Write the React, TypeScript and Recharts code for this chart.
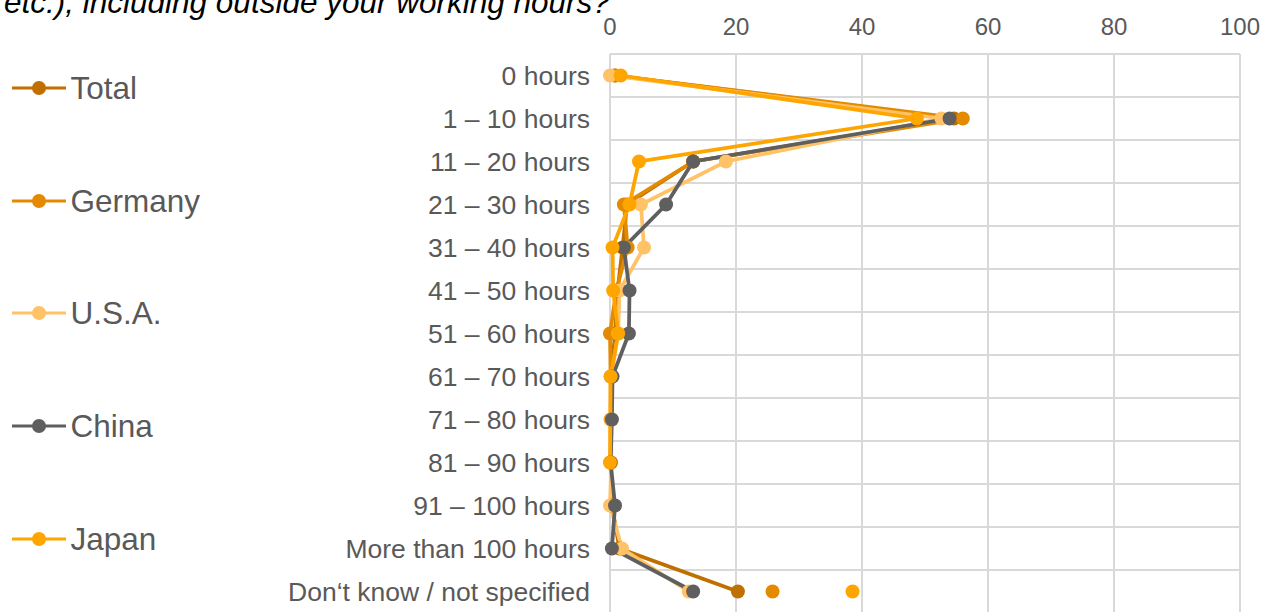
import React from 'react';
import {
  LineChart,
  Line,
  XAxis,
  YAxis,
  CartesianGrid,
  Legend,
} from 'recharts';

const FONT = '"Liberation Sans", Arial, sans-serif';

const categories = [
  '0 hours',
  '1 – 10 hours',
  '11 – 20 hours',
  '21 – 30 hours',
  '31 – 40 hours',
  '41 – 50 hours',
  '51 – 60 hours',
  '61 – 70 hours',
  '71 – 80 hours',
  '81 – 90 hours',
  '91 – 100 hours',
  'More than 100 hours',
  'Don‘t know / not specified',
];

// percent of respondents
const total = [0.8, 54.6, 13.2, 2.7, 2.0, 1.2, 0.8, 0.2, 0.2, 0.1, 0.3, 1.5, 20.3];
const germany = [0.8, 56.0, 13.2, 2.2, 2.8, 1.0, 0, 0.1, 0.1, 0.1, 0.2, null, null];
const usa = [0, 52.6, 18.4, 4.9, 5.4, 1.5, 1.3, 0.2, 0.2, 0.2, 0, 1.9, 12.5];
const china = [null, 53.9, 13.2, 8.9, 2.2, 3.1, 3.0, 0.4, 0.3, 0.1, 0.8, 0.3, 13.2];
const japan = [1.7, 48.7, 4.6, 3.1, 0.4, 0.5, 1.3, 0.1, null, 0, null, null, null];
// the "don't know" answers of Germany and Japan stand alone (no line to them)
const germanyDontKnow = [null, null, null, null, null, null, null, null, null, null, null, null, 25.8];
const japanDontKnow = [null, null, null, null, null, null, null, null, null, null, null, null, 38.5];

const xTicks = [0, 20, 40, 60, 80, 100];

const series = [
  { key: 'total', name: 'Total', color: '#BF7000' },
  { key: 'germany', name: 'Germany', color: '#E38A00' },
  { key: 'usa', name: 'U.S.A.', color: '#FFC266' },
  { key: 'china', name: 'China', color: '#5F5F5F' },
  { key: 'japan', name: 'Japan', color: '#FFA500' },
];

const extraDots = [
  { key: 'germanyDK', color: '#E38A00' },
  { key: 'japanDK', color: '#FFA500' },
];

const data = categories.map((name, i) => ({
  name,
  total: total[i],
  germany: germany[i],
  usa: usa[i],
  china: china[i],
  japan: japan[i],
  germanyDK: germanyDontKnow[i],
  japanDK: japanDontKnow[i],
}));

// grid lines sit between the categories, not through them
const bandLines = ({ yAxis, offset }: any) => {
  const s = yAxis && yAxis.scale;
  if (typeof s === 'function') {
    const pts = categories.map((c) => s(c));
    if (pts.every((p: any) => Number.isFinite(p))) {
      const step = pts[1] - pts[0];
      return [pts[0] - step / 2, ...pts.map((p: number) => p + step / 2)];
    }
  }
  return categories
    .concat([''])
    .map((_, k) => offset.top + (offset.height * k) / categories.length);
};

const renderLegend = () => (
  <div style={{ position: 'relative', width: 300, height: 612 }}>
    {series.map((entry, i) => (
      <div
        key={entry.key}
        style={{
          position: 'absolute',
          left: 12,
          top: 88 + i * 112.65 - 20,
          height: 40,
          display: 'flex',
          alignItems: 'center',
        }}
      >
        <svg width={54} height={16} style={{ display: 'block' }}>
          <line x1={0} y1={8} x2={54} y2={8} stroke={entry.color} strokeWidth={3} />
          <circle cx={27} cy={8} r={7} fill={entry.color} />
        </svg>
        <span
          style={{
            marginLeft: 4.5,
            fontSize: 31.5,
            lineHeight: '32px',
            color: '#595959',
            fontFamily: FONT,
          }}
        >
          {entry.name}
        </span>
      </div>
    ))}
  </div>
);

export default function App() {
  return (
    <div
      style={{
        position: 'absolute',
        left: 0,
        top: 0,
        width: 1262,
        height: 612,
        overflow: 'hidden',
        background: '#fff',
        fontFamily: FONT,
      }}
    >
      <svg
        width={1262}
        height={40}
        style={{ position: 'absolute', left: 0, top: 0, pointerEvents: 'none', zIndex: 2 }}
      >
        <text x={4} y={13} fontSize={31.5} fontStyle="italic" fill="#000" fontFamily={FONT}>
          etc.), including outside your working hours?
        </text>
      </svg>
      <LineChart
        width={1262}
        height={620}
        data={data}
        layout="vertical"
        margin={{ top: 0, right: 22, left: 0, bottom: 7 }}
        style={{ fontFamily: FONT }}
      >
        <CartesianGrid
          yAxisId="cat"
          stroke="#D9D9D9"
          strokeWidth={2}
          horizontalCoordinatesGenerator={bandLines}
        />
        <XAxis
          type="number"
          orientation="top"
          domain={[0, 100]}
          ticks={xTicks}
          height={54}
          axisLine={false}
          tickLine={false}
          tickSize={0}
          tickMargin={19}
          interval={0}
          tick={{ fill: '#595959', fontSize: 24 }}
        />
        <YAxis
          yAxisId="cat"
          type="category"
          dataKey="name"
          width={610}
          padding={{ top: 21.5, bottom: 21.5 }}
          axisLine={false}
          tickLine={false}
          tickSize={0}
          tickMargin={20}
          interval={0}
          tick={{ fill: '#595959', fontSize: 26.5 }}
        />
        <Legend
          layout="vertical"
          align="center"
          verticalAlign="middle"
          wrapperStyle={{ left: 0, top: 0, width: 300, height: 612 }}
          content={renderLegend}
        />
        {series.map((s) => (
          <Line
            key={s.key}
            yAxisId="cat"
            dataKey={s.key}
            name={s.name}
            stroke={s.color}
            strokeWidth={3.75}
            dot={{ r: 7, fill: s.color, stroke: 'none' }}
            activeDot={false}
            isAnimationActive={false}
          />
        ))}
        {extraDots.map((s) => (
          <Line
            key={s.key}
            yAxisId="cat"
            dataKey={s.key}
            legendType="none"
            stroke="none"
            dot={{ r: 7, fill: s.color, stroke: 'none' }}
            activeDot={false}
            isAnimationActive={false}
          />
        ))}
      </LineChart>
    </div>
  );
}
